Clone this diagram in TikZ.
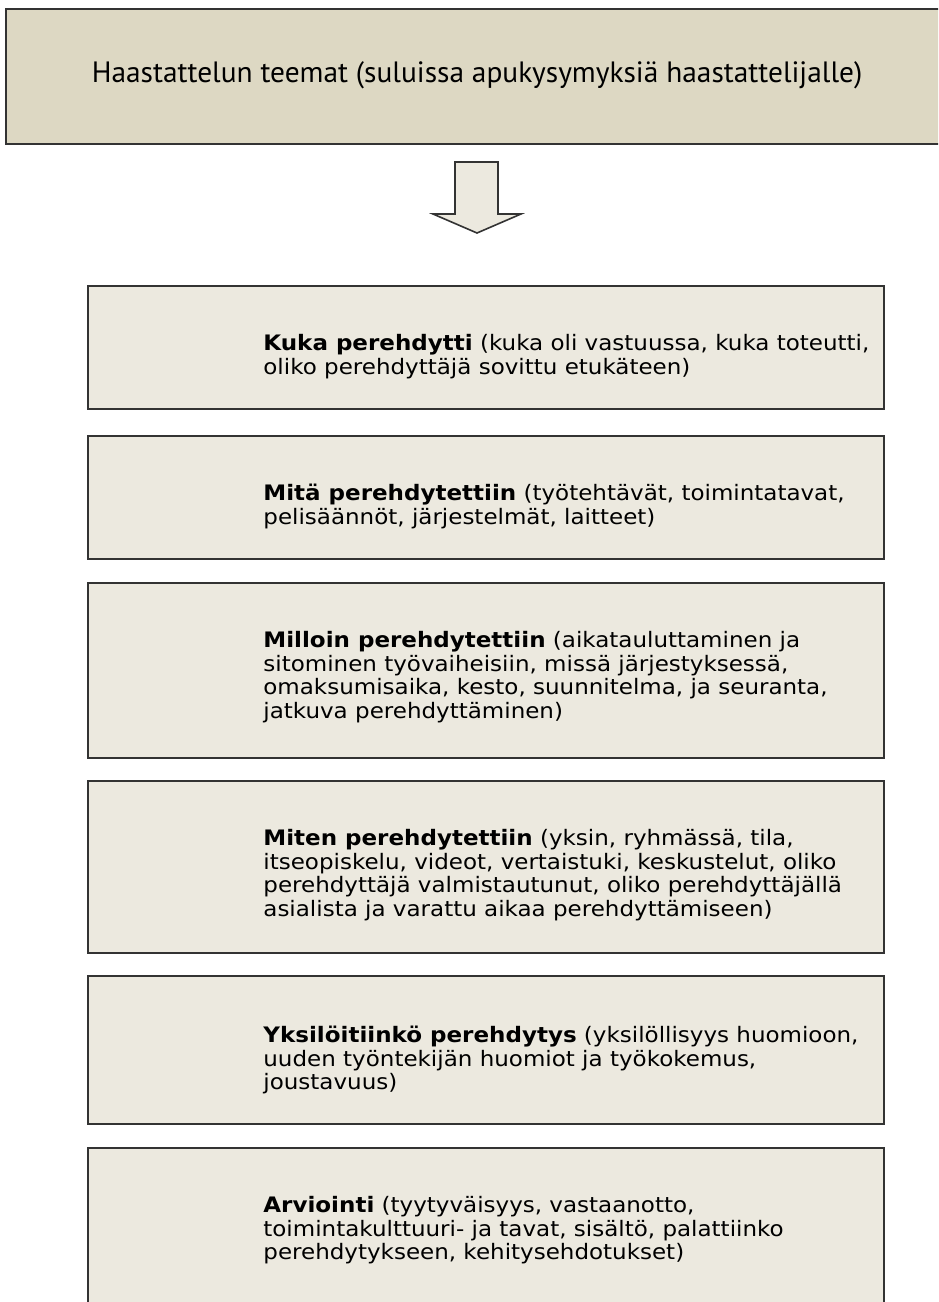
\documentclass[tikz,border=0pt]{standalone}
\usepackage{fontspec}
\setmainfont{PT Sans}
\newfontfamily\boxfont[FakeStretch=1.08]{DejaVu Sans}
\usetikzlibrary{positioning}

\definecolor{headfill}{HTML}{DDD8C3}
\definecolor{boxfill}{HTML}{ECE9DF}
\definecolor{edgegray}{HTML}{333333}

\begin{document}
\begin{tikzpicture}[x=0.5pt,y=-0.5pt,
  headbox/.style={draw=edgegray, line width=1pt, fill=headfill, anchor=north west,
    minimum width=472pt, minimum height=67.5pt, inner sep=0pt},
  themebox/.style={draw=edgegray, line width=1pt, fill=boxfill, anchor=north west,
    minimum width=398pt, inner sep=0pt},
  themetext/.style={anchor=north west, align=left, inner sep=0pt,
    font=\boxfont\fontsize{10.65}{11.75}\selectfont}]

  % Fix the page size
  \useasboundingbox (0,0) rectangle (938,1302);
  \clip (0,0) rectangle (938,1302);

  % Heading box (runs off the right edge)
  \node[headbox] (head) at (5,8) {};
  \node[font=\fontsize{14.7}{16}\selectfont, inner sep=0pt] (headtxt) at (477,75)
    {Haastattelun teemat (suluissa apukysymyksiä haastattelijalle)};

  % Block arrow under the heading
  \coordinate (tip) at (477,233);
  \draw[draw=edgegray, line width=0.8pt, fill=boxfill, line join=miter]
    (455,162) -- (455,214) -- (433,214) -- (tip) -- (521,214) -- (498,214)
    -- (498,162) -- cycle;

  % Theme boxes
  \node[themebox, minimum height=61.5pt] (kuka) at (87,285) {};
  \node[themetext] (kukatxt) at ([shift={(176,49)}]kuka.north west)
    {\textbf{Kuka perehdytti} (kuka oli vastuussa, kuka toteutti,\\
     oliko perehdyttäjä sovittu  etukäteen)};

  \node[themebox, minimum height=61.5pt] (mita) at (87,435) {};
  \node[themetext] (mitatxt) at ([shift={(176,49)}]mita.north west)
    {\textbf{Mitä perehdytettiin} (työtehtävät, toimintatavat,\\
     pelisäännöt, järjestelmät, laitteet)};

  \node[themebox, minimum height=87.5pt] (milloin) at (87,582) {};
  \node[themetext] (milloontxt) at ([shift={(176,49)}]milloin.north west)
    {\textbf{Milloin perehdytettiin} (aikatauluttaminen ja\\
     sitominen työvaiheisiin,  missä järjestyksessä,\\
     omaksumisaika, kesto, suunnitelma, ja seuranta,\\
     jatkuva perehdyttäminen)};

  \node[themebox, minimum height=86pt] (miten) at (87,780) {};
  \node[themetext] (mitentxt) at ([shift={(176,49)}]miten.north west)
    {\textbf{Miten perehdytettiin} (yksin, ryhmässä, tila,\\
     itseopiskelu, videot, vertaistuki, keskustelut, oliko\\
     perehdyttäjä valmistautunut, oliko perehdyttäjällä\\
     asialista ja varattu  aikaa perehdyttämiseen)};

  \node[themebox, minimum height=74pt] (yksil) at (87,975) {};
  \node[themetext] (yksiltxt) at ([shift={(176,51)}]yksil.north west)
    {\textbf{Yksilöitiinkö perehdytys} (yksilöllisyys huomioon,\\
     uuden työntekijän huomiot ja työkokemus,\\
     joustavuus)};

  \node[themebox, minimum height=90pt] (arvio) at (87,1147) {};
  \node[themetext] (arviotxt) at ([shift={(176,49)}]arvio.north west)
    {\textbf{Arviointi} (tyytyväisyys, vastaanotto,\\
     toimintakulttuuri-  ja tavat, sisältö, palattiinko\\
     perehdytykseen, kehitysehdotukset)};

\end{tikzpicture}
\end{document}
